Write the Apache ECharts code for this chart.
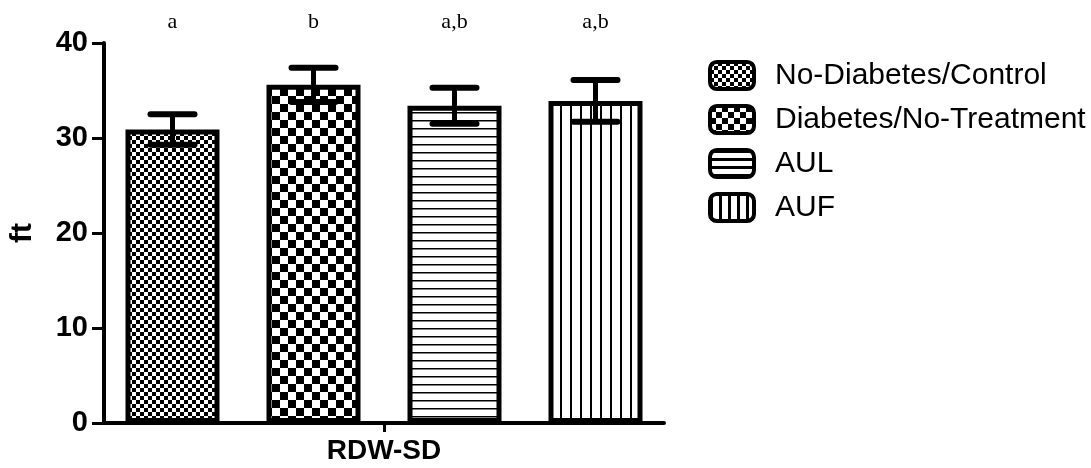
<!DOCTYPE html>
<html><head><meta charset="utf-8">
<script src="https://cdn.jsdelivr.net/npm/echarts@6/dist/echarts.min.js"></script>
<style>html,body{margin:0;padding:0;background:#fff}#c{width:1091px;height:468px}</style>
</head><body><div id="c"></div>
<script>
const categories = ['RDW-SD'];
const groups = ['No-Diabetes/Control', 'Diabetes/No-Treatment', 'AUL', 'AUF'];
const means = [30.9, 35.6, 33.4, 33.9];
const errors = [1.6, 1.8, 1.9, 2.2];
const sigLetters = ['a', 'b', 'a,b', 'a,b'];
const yTicks = [0, 10, 20, 30, 40];

const BAR_W = 94, BAR_GAP = 0.5;

function makePattern(w, h, draw) {
  const c = document.createElement('canvas');
  c.width = w; c.height = h;
  const g = c.getContext('2d');
  g.fillStyle = '#fff'; g.fillRect(0, 0, w, h);
  g.fillStyle = '#000'; draw(g, w, h);
  return { image: c, repeat: 'repeat' };
}
function checker(s) { return makePattern(2 * s, 2 * s, g => { g.fillRect(0, 0, s, s); g.fillRect(s, s, s, s); }); }
function hlines(sp, t) { return makePattern(sp, sp, (g, w) => g.fillRect(0, 0, w, t)); }
function vlines(sp, t) { return makePattern(sp, sp, (g, w, h) => g.fillRect(0, 0, t, h)); }

const barPatterns = [checker(4), checker(8), hlines(8, 1.5), vlines(10, 2)];
const legendPatterns = [checker(4), checker(6), hlines(8, 3), vlines(9, 3)];

const FONT = '"Liberation Sans", Arial, sans-serif';

const chart = echarts.init(document.getElementById('c'), null, { renderer: 'canvas' });
chart.setOption({
  animation: false,
  backgroundColor: '#fff',
  grid: { left: 97, right: 427, top: 43, bottom: 45, containLabel: false },
  legend: {
    orient: 'vertical', left: 703, top: 55,
    itemWidth: 44, itemHeight: 27, itemGap: 13,
    icon: 'roundRect',
    textStyle: { fontFamily: FONT, fontSize: 30, color: '#000', lineHeight: 27, padding: [0, 0, 0, 16] },
    data: groups.map((name, i) => ({ name, itemStyle: { color: legendPatterns[i], borderColor: '#000', borderWidth: 4 } }))
  },
  xAxis: {
    type: 'category', data: categories,
    axisLine: { lineStyle: { color: '#000', width: 4 } },
    axisTick: { show: true, alignWithLabel: true, length: 9, lineStyle: { color: '#000', width: 3 } },
    axisLabel: { color: '#000', fontFamily: FONT, fontWeight: 'bold', fontSize: 28, margin: 14 }
  },
  yAxis: {
    type: 'value', min: yTicks[0], max: yTicks[yTicks.length - 1], interval: 10,
    name: 'ft', nameLocation: 'middle', nameGap: 66,
    nameTextStyle: { color: '#000', fontFamily: FONT, fontWeight: 'bold', fontSize: 30 },
    axisLine: { show: true, lineStyle: { color: '#000', width: 4 } },
    axisTick: { show: true, length: 12, lineStyle: { color: '#000', width: 3 } },
    splitLine: { show: false },
    axisLabel: { color: '#000', fontFamily: FONT, fontWeight: 'bold', fontSize: 29, margin: 16 }
  },
  series: groups.map((name, i) => ({
    type: 'bar', name, data: [means[i]],
    barWidth: BAR_W, barGap: (BAR_GAP * 100) + '%',
    itemStyle: { color: barPatterns[i], borderColor: '#000', borderWidth: 5 },
    z: 2
  })).concat([{
    type: 'custom', z: 5, silent: true,
    data: groups.map((g, i) => [0, means[i], errors[i], i]),
    encode: { x: 0, y: 1 },
    renderItem(params, api) {
      const i = api.value(3), m = api.value(1), e = api.value(2);
      const c = api.coord([0, m]);
      const off = (i - (groups.length - 1) / 2) * BAR_W * (1 + BAR_GAP);
      const x = c[0] + off;
      const yTop = api.coord([0, m + e])[1];
      const yBot = api.coord([0, m - e])[1];
      const yText = api.coord([0, yTicks[yTicks.length - 1]])[1] - 21;
      const capStyle = { stroke: '#000', lineWidth: 6, lineCap: 'round' };
      return {
        type: 'group', children: [
          { type: 'line', shape: { x1: x, y1: yTop, x2: x, y2: yBot }, style: { stroke: '#000', lineWidth: 5 } },
          { type: 'line', shape: { x1: x - 22, y1: yTop, x2: x + 22, y2: yTop }, style: capStyle },
          { type: 'line', shape: { x1: x - 22, y1: yBot, x2: x + 22, y2: yBot }, style: capStyle },
          { type: 'text', x: x, y: yText, style: { text: sigLetters[params.dataIndex], font: '22px "Liberation Serif", "Times New Roman", serif', fill: '#000', align: 'center', verticalAlign: 'middle' } }
        ]
      };
    }
  }])
});
</script></body></html>
